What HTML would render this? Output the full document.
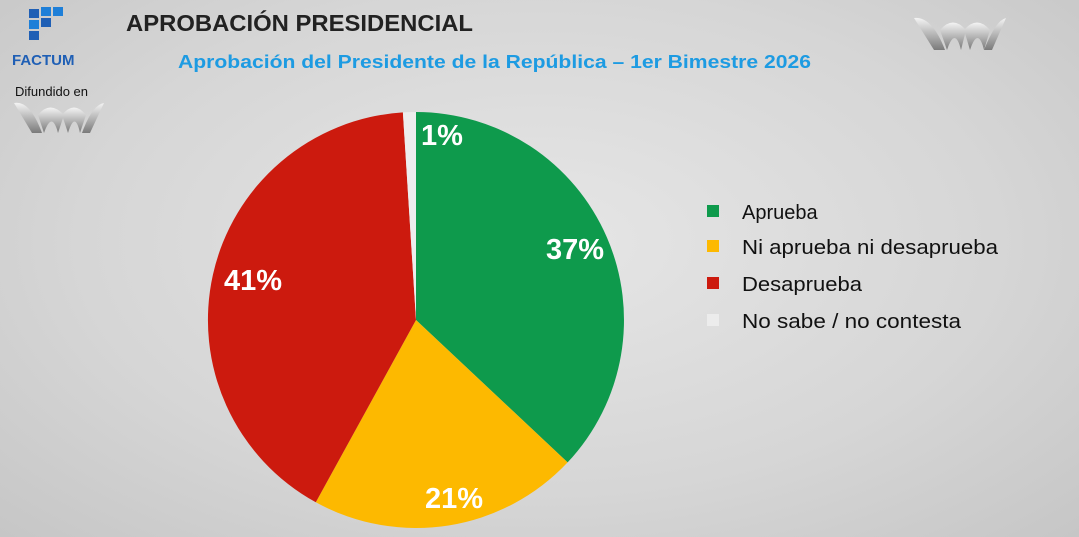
<!DOCTYPE html>
<html><head><meta charset="utf-8"><style>
body{margin:0;width:1079px;height:537px;overflow:hidden;background:radial-gradient(ellipse at 50% 45%,#e6e6e6 0%,#d6d6d6 60%,#c6c6c6 100%);font-family:"Liberation Sans",sans-serif;position:relative}
.t{position:absolute;white-space:nowrap}
</style></head><body>
<svg width="1079" height="537" style="position:absolute;left:0;top:0">
<defs><linearGradient id="w" x1="0" y1="0" x2="0" y2="1"><stop offset="0" stop-color="#f4f4f4"/><stop offset="1" stop-color="#7a7a7a"/></linearGradient></defs>
<g fill="#1f5fb5">
<rect x="29" y="9" width="10" height="9"/><rect x="41" y="7" width="10" height="9" fill="#1e7fd8"/><rect x="53" y="7" width="10" height="9" fill="#1e7fd8"/>
<rect x="29" y="20" width="10" height="9" fill="#1e7fd8"/><rect x="41" y="18" width="10" height="9"/>
<rect x="29" y="31" width="10" height="9"/>
</g>
<g fill="url(#w)">
<path d="M14 103 Q30 100 42 133 L32 133 Z"/><path d="M38 115 Q50 100 64 115 L58 133 Q52 110 44 133 Z"/><path d="M62 115 Q74 100 86 115 L80 133 Q75 110 68 133Z"/><path d="M104 103 L90 133 L82 133 Q92 105 104 103Z"/>
<path d="M914 18 Q932 16 945 50 L934 50 Z"/><path d="M940 30 Q953 15 966 30 L961 50 Q955 26 947 50 Z"/><path d="M964 30 Q977 15 990 30 L984 50 Q978 26 970 50Z"/><path d="M1006 18 L992 50 L984 50 Q996 20 1006 18Z"/>
</g>
<path d="M416 320 L416 112 A208 208 0 0 1 567.6 462.4 Z" fill="#0e9a4c"/>
<path d="M416 320 L567.6 462.4 A208 208 0 0 1 315.8 502.3 Z" fill="#fdb900"/>
<path d="M416 320 L315.8 502.3 A208 208 0 0 1 402.9 112.4 Z" fill="#cc1a0e"/>
<path d="M416 320 L402.9 112.4 A208 208 0 0 1 416 112 Z" fill="#ededed"/>
<g fill="#fff" font-family="Liberation Sans" font-weight="bold" font-size="29" text-anchor="middle">
<text x="442" y="145">1%</text><text x="575" y="259">37%</text><text x="454" y="508">21%</text><text x="253" y="290">41%</text>
</g>
<rect x="707" y="205" width="12" height="12" fill="#0e9a4c"/>
<rect x="707" y="240" width="12" height="12" fill="#fdb900"/>
<rect x="707" y="277" width="12" height="12" fill="#cc1a0e"/>
<rect x="707" y="314" width="12" height="12" fill="#ececec"/>
<g font-family="Liberation Sans" font-size="20" fill="#111">
<text x="742" y="219">Aprueba</text><text x="742" y="254" textLength="256" lengthAdjust="spacingAndGlyphs">Ni aprueba ni desaprueba</text><text x="742" y="291" textLength="120" lengthAdjust="spacingAndGlyphs">Desaprueba</text><text x="742" y="328" textLength="219" lengthAdjust="spacingAndGlyphs">No sabe / no contesta</text>
</g>
<text x="126" y="31" font-family="Liberation Sans" font-size="23" font-weight="bold" fill="#222" textLength="347" lengthAdjust="spacingAndGlyphs">APROBACIÓN PRESIDENCIAL</text>
<text x="178" y="68" font-family="Liberation Sans" font-size="18" font-weight="bold" fill="#1d9be2" textLength="633" lengthAdjust="spacingAndGlyphs">Aprobación del Presidente de la República – 1er Bimestre 2026</text>
</svg>
<div class="t" style="left:12px;top:52px;font-size:15px;font-weight:bold;color:#1f5fb5">FACTUM</div>
<div class="t" style="left:15px;top:84px;font-size:13px;color:#111">Difundido en</div>
</body></html>
